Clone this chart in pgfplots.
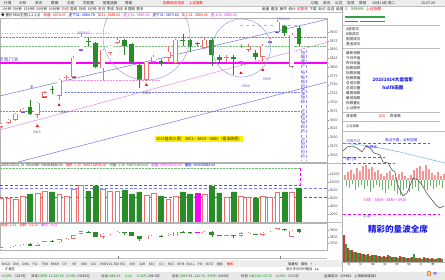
\documentclass[border=0pt]{standalone}
\usepackage{fontspec}
\setmainfont{Noto Sans CJK SC}
\newfontfamily\dejavu{DejaVu Sans}
\usepackage{pgfplots}
\pgfplotsset{compat=1.18}
\definecolor{cred}{RGB}{236,112,112}
\definecolor{cgreen}{RGB}{40,140,40}
\definecolor{mag}{RGB}{255,0,255}
\definecolor{tblue}{RGB}{125,125,235}
\definecolor{tpink}{RGB}{242,150,228}
\definecolor{vpurp}{RGB}{110,80,220}
\definecolor{lblue}{RGB}{30,30,235}
\definecolor{ylw}{RGB}{255,240,0}
\definecolor{brred}{RGB}{200,60,45}
\definecolor{dgreen}{RGB}{50,160,70}
\definecolor{sred}{RGB}{244,150,150}
\definecolor{sgreen}{RGB}{110,180,110}
\definecolor{avgblue}{RGB}{130,190,235}
\definecolor{lgreen}{RGB}{120,190,120}
\newcommand\fs[1]{\fontsize{#1}{#1}\selectfont}
\tikzset{t/.style={anchor=west,inner sep=0,font=\fs{3.6},text=black!85}}
\newcommand\bw{4.8bp}
\newcommand\bwi{3.8bp}
\newcommand\wk{0.5bp}
\newcommand\candU[5]{%
\addplot[cred,line width=\wk] coordinates {(#1,#2)(#1,#5)};
\addplot[cred,line width=\bw] coordinates {(#1,#3)(#1,#4)};
\addplot[white,line width=\bwi,shorten <=0.5bp,shorten >=0.5bp] coordinates {(#1,#3)(#1,#4)};}
\newcommand\candD[5]{%
\addplot[cgreen,line width=\wk] coordinates {(#1,#2)(#1,#5)};
\addplot[cgreen,line width=\bw] coordinates {(#1,#3)(#1,#4)};}
\newcommand\candM[5]{%
\addplot[mag,line width=\wk] coordinates {(#1,#2)(#1,#5)};
\addplot[mag,line width=\bw] coordinates {(#1,#3)(#1,#4)};}
\newcommand\allcandles{%
\candU{0}{3626.8}{3629.6}{3638.2}{3641.0}
\candU{1}{3638.2}{3641.0}{3649.6}{3652.4}
\candU{2}{3646.7}{3649.6}{3666.6}{3669.5}
\candU{3}{3669.5}{3672.3}{3680.9}{3683.7}
\candD{4}{3663.8}{3666.6}{3686.6}{3706.5}
\candU{5}{3655.2}{3663.8}{3697.9}{3700.8}
\candU{6}{3712.2}{3715.0}{3729.2}{3732.1}
\candD{7}{3723.6}{3733.5}{3736.4}{3746.3}
\candU{8}{3706.5}{3717.9}{3763.4}{3766.2}
\candU{9}{3763.4}{3769.1}{3771.9}{3777.6}
\candU{10}{3769.1}{3771.9}{3826.0}{3831.7}
\candU{11}{3845.9}{3848.8}{3885.8}{3894.3}
\candD{12}{3860.2}{3870.1}{3873.0}{3882.9}
\candD{13}{3797.5}{3800.4}{3868.7}{3871.5}
\candU{14}{3763.4}{3797.5}{3848.8}{3851.6}
\candU{15}{3834.5}{3840.2}{3860.2}{3863.0}
\candU{16}{3865.8}{3868.7}{3877.2}{3882.9}
\candD{17}{3834.5}{3860.2}{3877.2}{3880.1}
\candD{18}{3811.8}{3814.6}{3865.8}{3868.7}
\candD{19}{3740.6}{3763.4}{3806.1}{3808.9}
\candU{20}{3760.5}{3763.4}{3814.6}{3817.5}
\candU{21}{3811.8}{3814.6}{3828.9}{3834.5}
\candD{22}{3803.2}{3811.8}{3817.5}{3823.2}
\candU{23}{3811.8}{3826.0}{3843.1}{3860.2}
\candU{24}{3808.9}{3811.8}{3877.2}{3880.1}
\candD{25}{3860.2}{3873.0}{3875.8}{3894.3}
\candD{26}{3843.1}{3860.2}{3877.2}{3880.1}
\candM{27}{3860.2}{3864.4}{3867.3}{3871.5}
\candU{28}{3851.6}{3854.5}{3877.2}{3882.9}
\candD{29}{3803.2}{3834.5}{3877.2}{3882.9}
\candD{30}{3814.6}{3820.3}{3828.9}{3834.5}
\candU{31}{3814.6}{3824.6}{3827.4}{3834.5}
\candD{32}{3777.6}{3823.2}{3828.9}{3834.5}
\candU{33}{3803.2}{3814.6}{3854.5}{3865.8}
\candU{34}{3843.1}{3848.8}{3857.3}{3865.8}
\candD{35}{3820.3}{3828.9}{3840.2}{3848.8}
\candU{36}{3811.8}{3828.9}{3860.2}{3865.8}
\candU{37}{3868.7}{3871.5}{3880.1}{3885.8}
\candU{38}{3897.2}{3900.0}{3928.5}{3934.2}
\candD{39}{3888.6}{3897.2}{3917.1}{3919.9}
\candU{40}{3797.5}{3800.4}{3891.5}{3897.2}
\candD{41}{3860.2}{3865.8}{3911.4}{3917.1}
}
\begin{document}
\begin{tikzpicture}
\useasboundingbox (0,0) rectangle (445bp,280bp);
\fill[white] (0,0) rectangle (445bp,280bp);
% ---------- backgrounds ----------
\begin{scope}[shift={(0bp,280bp)},x=1bp,y=-1bp]
\fill[black!7] (0,0) rectangle (445,6.3);
\draw[black!25,line width=0.3bp] (0,6.3)--(445,6.3) (0,12.3)--(342,12.3);
\fill[black!7] (0,260.5) rectangle (342,267.5);
\fill[black!9] (0,272) rectangle (445,280);
\draw[black!30,line width=0.3bp] (342.5,6.3)--(342.5,272);
\draw[black!25,line width=0.3bp] (343,25)--(440,25) (343,48.5)--(440,48.5) (343,112)--(440,112) (343,121.5)--(440,121.5) (343,131.5)--(445,131.5);
\draw[black!25,line width=0.3bp] (0,163)--(342,163) (0,222.5)--(342,222.5) (0,258)--(327,258);
\end{scope}
% ---------- main price panel ----------
\begin{axis}[at={(0bp,262bp)},anchor=north west,scale only axis,width=327bp,height=144bp,
 xmin=-0.14,xmax=44.84,ymin=3530,ymax=3939.8,
 axis line style={draw=black!30,line width=0.35bp},
 xtick=\empty,ytick={3550,3575,...,3900},ytick pos=right,yticklabel pos=right,
 major tick length=1.6bp,tick align=outside,
 ytick style={draw=black!45,line width=0.3bp},
 yticklabel style={font=\fs{3.5},text=black!75,inner sep=1bp,/pgf/number format/.cd,fixed,1000 sep={}},
 /pgf/number format/assume math mode=true]
\addplot[black!30,dotted,line width=0.4bp] coordinates {(-0.14,3897)(15,3897)};
\addplot[tblue,line width=0.55bp] coordinates {(-0.14,3718.0)(44.84,3936.0)};
\addplot[tpink,line width=0.6bp] coordinates {(-0.14,3621.1)(44.84,3870.5)};
\addplot[tblue,line width=0.55bp] coordinates {(-0.14,3516.6)(44.84,3757.7)};
\addplot[tblue,densely dotted,line width=0.45bp] coordinates {(-0.14,3884.3)(44.84,3884.3)};
\addplot[lgreen,densely dotted,line width=0.45bp] coordinates {(-0.14,3860.2)(44.84,3860.2)};
\addplot[tpink,dashed,line width=0.45bp] coordinates {(32.9,3919.9)(40.8,3919.9)};
\addplot[tpink,densely dotted,line width=0.45bp] coordinates {(8.8,3763.4)(21.9,3763.4)};
\addplot[tblue,densely dotted,line width=0.45bp] coordinates {(8.8,3729.2)(41.1,3729.2)};
\addplot[tblue,densely dotted,line width=0.45bp] coordinates {(-0.14,3673.7)(41.1,3673.7)};
\addplot[mag,line width=1.1bp] coordinates {(-0.14,3811.8)(44.84,3811.8)};
\allcandles
\addplot[only marks,mark=-,mark size=2.2bp,draw=vpurp,line width=0.9bp] coordinates {(3,3672.3)(6,3715.0)(10,3771.9)(11,3848.8)(37,3871.5)(38,3900.0)};
\addplot[only marks,mark=triangle*,mark size=1.3bp,red] coordinates {(5,3632.5)(8,3692.2)(20,3749.1)(33,3783.3)(36,3791.9)};
\end{axis}
% ---------- volume panel ----------
\begin{axis}[at={(0bp,117bp)},anchor=north west,scale only axis,width=327bp,height=59bp,
 xmin=-0.14,xmax=44.84,ymin=0,ymax=14750,
 axis line style={draw=black!30,line width=0.35bp},
 xtick=\empty,ytick={2000,4000,...,12000},ytick pos=right,yticklabel pos=right,scaled y ticks=false,
 major tick length=1.6bp,tick align=outside,
 ytick style={draw=black!45,line width=0.3bp},
 yticklabel style={font=\fs{3.5},text=black!75,inner sep=1bp,/pgf/number format/.cd,fixed,1000 sep={}},
 /pgf/number format/assume math mode=true]
\addplot[lgreen,densely dotted,line width=0.45bp] coordinates {(-0.14,13500)(41.1,13500)};
\addplot[mag,densely dashed,line width=0.45bp] coordinates {(-0.14,9250)(41.1,9250)(41.1,13500)};
\addplot[tblue,densely dashed,line width=0.45bp] coordinates {(-0.14,8500)(44.84,8500)};
\addplot[brred,densely dashed,line width=0.4bp] coordinates {(-0.14,6250)(44.84,6250)};
\addplot[ybar,bar width=0.66,bar shift=0pt,draw=cred,fill=white,line width=0.5bp] coordinates {(0,6000)(1,6000)(2,5750)(3,6500)(5,7250)(6,7750)(8,7000)(9,6500)(10,8250)(11,9250)(14,8250)(15,7750)(16,7750)(20,6750)(21,7250)(23,5750)(24,6500)(28,7000)(31,6250)(33,6500)(34,6250)(36,6500)(37,6250)(38,7500)(40,7500)};
\addplot[ybar,bar width=0.66,bar shift=0pt,draw=cgreen,fill=cgreen] coordinates {(4,7000)(7,7500)(12,7750)(13,9000)(17,8000)(18,7000)(19,7500)(22,6500)(25,7500)(26,7000)(29,9000)(30,7250)(32,7500)(35,6000)(39,7500)(41,8500)};
\addplot[ybar,bar width=0.66,bar shift=0pt,draw=mag,fill=mag] coordinates {(27,7250)};
\end{axis}
% ---------- small candle panel ----------
\renewcommand\bwi{3.9bp}
\renewcommand\wk{0.35bp}
\begin{axis}[at={(0bp,57bp)},anchor=north west,scale only axis,width=327bp,height=27bp,
 xmin=-0.14,xmax=44.84,ymin=3600,ymax=4010,
 axis line style={draw=black!30,line width=0.35bp},
 xtick=\empty,ytick={3700,3800,3900},ytick pos=right,yticklabel pos=right,
 major tick length=1.6bp,tick align=outside,
 ytick style={draw=black!45,line width=0.3bp},
 yticklabel style={font=\fs{3.5},text=black!75,inner sep=1bp,/pgf/number format/.cd,fixed,1000 sep={}},
 /pgf/number format/assume math mode=true]
\allcandles
\end{axis}
% ---------- intraday chart (sidebar) ----------
\begin{axis}[at={(343bp,146bp)},anchor=north west,scale only axis,width=102bp,height=88bp,
 xmin=343,xmax=445,ymin=-42,ymax=46,hide axis,clip=true]
\addplot[ycomb,sred,line width=1.1bp] coordinates {(345,5)(348,8)(351,10)(354,6)(357,12)(360,9)(363,14)(366,15)(369,11)(372,13)(375,8)(378,10)(381,6)(384,4)(387,7)(390,9)(393,5)(396,3)(399,6)(402,8)(405,4)(408,2)(411,5)(414,10)(417,12)(420,14)(423,9)(426,15)(429,11)(432,7)(435,5)(438,8)(441,4)(444,6)};
\addplot[ycomb,sgreen,line width=1.1bp] coordinates {(346.5,-6)(349.5,-8)(352.5,-4)(355.5,-10)(358.5,-7)(361.5,-5)(364.5,-9)(367.5,-6)(370.5,-12)(373.5,-8)(376.5,-5)(379.5,-7)(382.5,-10)(385.5,-13)(388.5,-9)(391.5,-6)(394.5,-11)(397.5,-14)(400.5,-15)(403.5,-10)(406.5,-8)(409.5,-12)(412.5,-9)(415.5,-7)(418.5,-11)(421.5,-5)(424.5,-8)(427.5,-10)(430.5,-6)(433.5,-9)(436.5,-7)(439.5,-5)(442.5,-8)};
\addplot[mag,densely dashed,line width=0.45bp] coordinates {(343,36.5)(430,36.5)};
\addplot[mag,densely dashed,line width=0.45bp] coordinates {(343,23)(385,23)};
\addplot[mag,densely dashed,line width=0.45bp] coordinates {(343,17)(395,17)};
\addplot[mag,densely dashed,line width=0.45bp] coordinates {(343,-34.5)(440,-34.5)};
\addplot[avgblue,line width=0.6bp] coordinates {(343,37)(370,34)(400,28)(420,23)(445,17)};
\addplot[black!70,line width=0.55bp] coordinates {(343,29)(347,33)(352,34)(357,32)(362,28)(366,34)(370,32)(374,27)(380,25)(383,18)(388,17)(392,10)(395,8)(397,-3)(400,-10)(403,-16)(407,-13)(410,-6)(413,2)(418,0)(422,-5)(425,-10)(428,-15)(432,-20)(436,-25)(440,-28)(444,-26)};
\end{axis}
% ---------- sidebar histogram ----------
\begin{axis}[at={(343bp,44bp)},anchor=north west,scale only axis,width=102bp,height=26bp,
 xmin=343,xmax=445,ymin=0,ymax=26,hide axis,clip=true]
\addplot[ycomb,brred,line width=1.6bp] coordinates {(344,28)(348,14)(352,12)(356,10)(360,9)(364,8)(368,8)(372,7)(376,7)(380,6)(384,6)(388,7)(392,5)(396,5)(400,6)(404,5)(408,4)(412,5)(416,4)(420,4)(424,5)(428,4)(432,4)(436,3)(440,4)};
\addplot[ycomb,dgreen,line width=1.6bp] coordinates {(346,18)(350,12)(354,10)(358,9)(362,8)(366,7)(370,6)(374,7)(378,6)(382,5)(386,5)(390,6)(394,5)(398,4)(402,5)(406,4)(410,4)(414,8)(418,4)(422,3)(426,4)(430,3)(434,3)(438,4)(442,3)};
\end{axis}
% ---------- annotations ----------
\begin{scope}[shift={(0bp,280bp)},x=1bp,y=-1bp]
\begin{scope}
\clip (0,18) rectangle (327,162);
\draw[tblue!80,line width=0.45bp] (146.5,36.5) circle (43.5);
\draw[tblue!80,line width=0.45bp] (241.5,48) circle (29);
\end{scope}
% top menu
\foreach \s/\x in {行情/4,分析/19,资讯/35,数据/51,交易/67,同花顺/83,智能选股/103,帮助/125}{\node[t] at (\x,3.2) {\s};}
\node[t,text=red] at (163,3.2) {指数综合排名\hspace{4bp}上证指数};
\foreach \s/\x in {功能/311,资讯/323,公式/335,选项/347,帮助/359}{\node[t] at (\x,3.2) {\s};}
\node[t] at (372,3.2) {10月14日 周二};
\node[t] at (421,3.2) {15:07:29};
\node[t] at (2,9.3) {1分钟\hspace{1.5bp}5分钟\hspace{1.5bp}15分钟\hspace{1.5bp}30分钟\hspace{1.5bp}60分钟\hspace{1.5bp}\textcolor{red}{日线}\hspace{1.5bp}周线\hspace{1.5bp}月线\hspace{1.5bp}1分钟\hspace{1.5bp}多日\hspace{1.5bp}季线\hspace{1.5bp}年线\hspace{1.5bp}多周期\hspace{1.5bp}更多};
\node[t] at (262,9.3) {画面\hspace{1.6bp}叠加\hspace{1.6bp}操作\hspace{1.6bp}统计\hspace{1.6bp}\textcolor{red}{前复权}\hspace{1.6bp}下载\hspace{1.6bp}标记\hspace{1.6bp}自选\hspace{1.6bp}返回};
\node[t] at (1,15.4) {◆ 量价SMA主图(1,2,3,4)\hspace{3bp}\textcolor{red}{收盘: 4370.05}\hspace{3bp}\textcolor{blue}{虚下31: 3884.78}\hspace{3bp}\textcolor{red}{实31: 3888.66}\hspace{3bp}\textcolor{mag}{虚上31: 3886.66}\hspace{3bp}\textcolor{blue}{虚下31: 3873.66}\hspace{3bp}\textcolor{red}{实上31: 3886.66}\hspace{3bp}\textcolor{mag}{虚上31: 3886.41}};
% main chart labels
\node[t,font=\fs{5},text=vpurp] at (-1.5,59.5) {至鬼门关};
\node[t,font=\fs{3.4},text=lblue] at (30,87) {支};
\node[t,font=\fs{3.4},text=vpurp] at (77,33.5) {3880.66};
\node[t,font=\fs{3.4},text=vpurp] at (277,19.5) {3936.66};
\node[t,font=\fs{3.4},text=tblue!70!black] at (33,132) {0815};
\node[t,font=\fs{3.4},text=tblue!70!black] at (60,112) {0820};
\node[t,font=\fs{3.4},text=tblue!70!black] at (143,93) {0805};
\node[t,font=\fs{3.4},text=tblue!70!black] at (242,86) {0924};
\node[t,font=\fs{3.4},text=tblue!70!black] at (263,79) {0929};
\node[anchor=west,fill=ylw,inner sep=0.9bp,font=\fs{4},text=black!85] at (155,139) {1015盘前三图：3851—3865—3880（看涨跌图）};
\draw[vpurp!60,densely dashed,line width=0.3bp] (300.8,50)--(300.8,160) (306.2,50)--(306.2,160);
\node[anchor=north,inner sep=0,align=center,text=vpurp,font=\fontsize{3.7}{4.15}\selectfont] at (303.5,51) {温\\馨\\提\\示\\：\\指\\数\\高\\位\\放\\量\\滞\\涨\\，\\注\\意\\回\\调\\风\\险\\，\\控\\制\\好\\仓\\位};
% volume header
\node[t,font=\fs{3.4}] at (1,165.6) {2025/10/14\hspace{2bp}2r\hspace{2bp}VOLUME: 586008888.00\hspace{3bp}\textcolor{red}{涨跌: 1.15\hspace{2bp}5860714906.00}\hspace{3bp}\textcolor{green!50!black}{均量: 1.19\hspace{2bp}586071414.00}\hspace{3bp}\textcolor{mag}{虚量: 589471016.00}\hspace{3bp}\textcolor{blue}{量能: 600838888.00}};
\node[t,font=\fs{3.4},text=red] at (1,225) {指标: 2.31\hspace{3bp}涨跌: -31.10\hspace{3bp}\textcolor{mag}{操作: -9.12}};
% scrollbar markers
\draw[black!50,line width=0.4bp] (118,256.5)--(118,259.5) (280,256.5)--(280,259.5);
% tabs
\foreach \s [count=\k] in {MACD,DMI,DMA,FSL,TRIX,BRAR,CR,VR,OBV,ASI,EMV,VOL-TDX,RSI,WR,SAR,KDJ,CCI,ROC,MTM,BOLL,PSY,BCST,指标}{\node[anchor=center,inner sep=0,font=\fs{3.2},text=black!80] at ({-3.4+9.7*\k},264) {\s};}
\node[anchor=center,inner sep=0,font=\fs{3.2},text=red] at (230,264) {模板};
\node[t,font=\fs{3.3}] at (288,264) {隐藏标\hspace{3bp}看板\hspace{3bp}+\hspace{3bp}-};
\node[t,font=\fs{3.3}] at (2,269.6) {-\hspace{2bp}扩展区};
\node[t,font=\fs{3.3}] at (286,269.6) {显示多日分时叠加\hspace{2bp}{\dejavu ◂\hspace{1bp}▸}};
% status bar
\begin{scope}[every node/.style={t,font=\fs{3.4}}]
\node[text=green!50!black] at (1,276.3) {-0.62\%};
\node at (15,276.3) {1219亿};
\node at (31,276.3) {深证};
\node[text=green!50!black] at (38,276.3) {12895.11};
\node[text=green!50!black] at (52,276.3) {-205.26};
\node[text=green!50!black] at (65,276.3) {-2.54\%};
\node at (77,276.3) {13062亿};
\node at (101,276.3) {北证};
\node[text=green!50!black] at (108,276.3) {1484.19};
\node[text=green!50!black] at (124,276.3) {-3.22};
\node[text=green!50!black] at (136,276.3) {-0.22\%};
\node at (148,276.3) {298.8亿};
\node at (172,276.3) {创业};
\node[text=green!50!black] at (180,276.3) {2955.98};
\node[text=green!50!black] at (193,276.3) {-122.78};
\node[text=green!50!black] at (206,276.3) {-3.99\%};
\node at (218,276.3) {6066亿};
\node at (241,276.3) {科创};
\node[text=green!50!black] at (249,276.3) {1413.20};
\node[text=green!50!black] at (262,276.3) {-52.72};
\node[text=green!50!black] at (275,276.3) {-4.25\%};
\node at (288,276.3) {1171亿};
\node at (324,276.3) {连接成功};
\node at (340,276.3) {259882};
\node at (354,276.3) {上海网络连接2};
\end{scope}
\node[anchor=center,fill=orange,rounded corners=1bp,inner sep=0.8bp,text=white,font=\fs{4.2}\bfseries] at (429,273.5) {S};
\node[t,font=\fs{4},text=blue] at (433,273.5) {中};
% sidebar
\node[t,font=\fs{3.8},text=red] at (345,9.3) {G};
\node[t,font=\fs{3.8},text=green!50!black] at (351,9.3) {999999};
\node[t,font=\fs{3.8},text=red] at (366,9.3) {上证指数};
\fill[dgreen] (345,16.3) rectangle (385,17.8);
\fill[red!80] (345,20.8) rectangle (358,22.3);
\fill[red!80] (360,20.8) rectangle (385,22.3);
\foreach \s/\y in {A股成交/29,B股成交/34,国债成交/39,基金成交/44,最新指数/53,今日开盘/58,昨日收盘/63,指数涨跌/68,指数涨幅/73.3,指数振幅/78.3,总成交额/83,总成交量/88,最高指数/93,最低指数/98,指数量比/103,上证换手/108}{\node[t,font=\fs{3.6}] at (346,\y) {\s};}
\node[anchor=center,inner sep=0,font=\fs{4.6}\bfseries,text=lblue] at (393,80) {20251014大盘留影};
\node[anchor=center,inner sep=0,font=\fs{4.6}\bfseries,text=lblue] at (393,88) {half8画图};
\node[t,font=\fs{3.6}] at (346,116.5) {涨家数};
\node[t,font=\fs{3.6},text=red] at (379,116.5) {815};
\node[t,font=\fs{3.6}] at (390,116.5) {跌家数};
\node[t,font=\fs{3.2}] at (346,126.5) {上证指数};
\node[t,font=\fs{3.6},text=vpurp] at (346,141.5) {冲高不过};
\node[t,font=\fs{3.6},text=lblue] at (385,140.5) {高点不高，必有回落};
\node[t,font=\fs{3.6},text=lblue] at (366,147.5) {大阴线};
\node[t,font=\fs{3.6},text=lblue] at (346,159.5) {鬼门关};
\node[t,font=\fs{3.8},text=mag] at (363,200.5) {三线：3859---3889---3915};
\node[t,font=\fs{3.6},text=lblue] at (363,216.5) {上沿—};
\node[anchor=center,inner sep=0,font=\fs{8.6}\bfseries,text=lblue] at (398,229.5) {精彩的量波全席};
\foreach \s/\x in {笔/349,价/361,细/373,势/385,联/397,值/409,主/421,筹/433}{\node[anchor=center,inner sep=0,font=\fs{3.4},text=black!75] at (\x,264) {\s};}
\draw[black!30,line width=0.3bp] (343,262.3)--(445,262.3);
\end{scope}
\end{tikzpicture}
\end{document}
